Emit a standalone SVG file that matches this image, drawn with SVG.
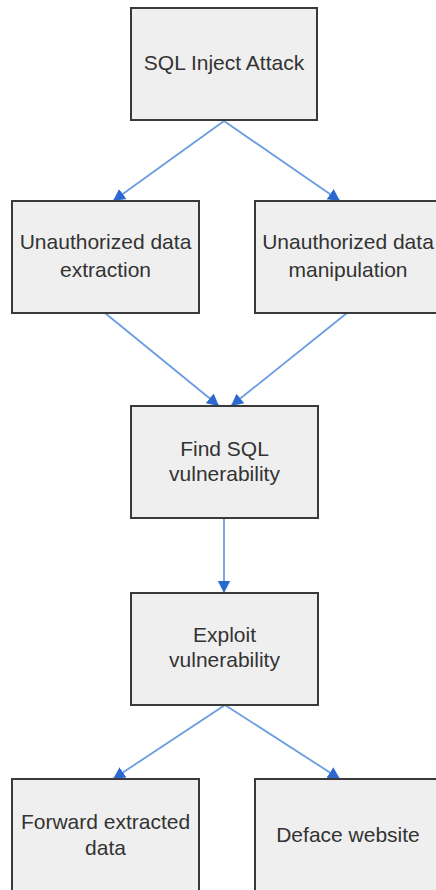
<svg xmlns="http://www.w3.org/2000/svg" width="436" height="890" viewBox="0 0 436 890">
  <style>
    .box { fill: #efefef; stroke: #3a3a3a; stroke-width: 2; }
    .lbl { font-family: "Liberation Sans", Arial, sans-serif; font-size: 21px; fill: #333333; text-anchor: middle; }
    .edge { stroke: #6a9de0; stroke-width: 1.8; fill: none; marker-end: url(#arrow); }
  </style>
  <defs>
    <marker id="arrow" markerUnits="userSpaceOnUse" markerWidth="16" markerHeight="16" viewBox="0 0 16 16" refX="12" refY="8" orient="auto">
      <path d="M0,1.8 L12,8 L0,14.2 Z" fill="#2c68d0"/>
    </marker>
  </defs>

  <rect width="436" height="890" fill="#ffffff"/>

  <g id="connectors">
    <line class="edge" x1="224" y1="121" x2="113" y2="201"/>
    <line class="edge" x1="224" y1="121" x2="340" y2="201"/>
    <line class="edge" x1="105" y1="313" x2="219" y2="406"/>
    <line class="edge" x1="347" y1="313" x2="231" y2="406"/>
    <line class="edge" x1="224" y1="518" x2="224" y2="593"/>
    <line class="edge" x1="225" y1="705" x2="113" y2="779"/>
    <line class="edge" x1="225" y1="705" x2="340" y2="779"/>
  </g>

  <g id="sql-inject-attack">
    <rect class="box" x="131" y="8" width="186" height="112"/>
    <text class="lbl" x="224" y="70">SQL Inject Attack</text>
  </g>

  <g id="data-extraction">
    <rect class="box" x="12" y="201" width="187" height="112"/>
    <text class="lbl" x="105.5" y="249">Unauthorized data</text>
    <text class="lbl" x="105.5" y="277">extraction</text>
  </g>

  <g id="data-manipulation">
    <rect class="box" x="255" y="201" width="187" height="112"/>
    <text class="lbl" x="348" y="249">Unauthorized data</text>
    <text class="lbl" x="348" y="277">manipulation</text>
  </g>

  <g id="find-vulnerability">
    <rect class="box" x="131" y="406" width="187" height="112"/>
    <text class="lbl" x="224.5" y="456">Find SQL</text>
    <text class="lbl" x="224.5" y="481">vulnerability</text>
  </g>

  <g id="exploit-vulnerability">
    <rect class="box" x="131" y="593" width="187" height="112"/>
    <text class="lbl" x="224.5" y="642">Exploit</text>
    <text class="lbl" x="224.5" y="667">vulnerability</text>
  </g>

  <g id="forward-data">
    <rect class="box" x="12" y="779" width="187" height="112"/>
    <text class="lbl" x="105.5" y="829">Forward extracted</text>
    <text class="lbl" x="105.5" y="855">data</text>
  </g>

  <g id="deface-website">
    <rect class="box" x="255" y="779" width="187" height="112"/>
    <text class="lbl" x="348" y="842">Deface website</text>
  </g>
</svg>
